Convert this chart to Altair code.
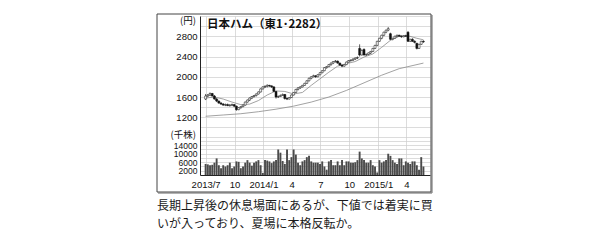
import altair as alt
import pandas as pd

# ---------------- data (weekly) ----------------
start_date = "2013-07-01"

opens = [1560, 1620, 1640, 1670, 1620, 1560, 1520, 1480, 1460, 1440,
         1450, 1430, 1440, 1450, 1420, 1350, 1390, 1410, 1440, 1500,
         1540, 1580, 1610, 1630, 1660, 1700, 1760, 1800, 1810, 1830,
         1820, 1800, 1710, 1600, 1610, 1630, 1650, 1570, 1560, 1590,
         1640, 1690, 1750, 1780, 1800, 1830, 1870, 1920, 1970, 2000,
         2020, 2000, 2040, 2080, 2120, 2180, 2200, 2240, 2270, 2300,
         2310, 2270, 2230, 2210, 2240, 2290, 2320, 2330, 2350, 2370,
         2560, 2430, 2540, 2430, 2440, 2470, 2500, 2560, 2620, 2700,
         2760, 2820, 2880, 2920, 2850, 2740, 2760, 2800, 2820, 2800,
         2790, 2810, 2880, 2700, 2740, 2700, 2660, 2560, 2640, 2700]
highs = [1660, 1660, 1690, 1680, 1640, 1580, 1530, 1500, 1480, 1470,
         1470, 1460, 1470, 1460, 1430, 1400, 1420, 1450, 1510, 1550,
         1590, 1620, 1640, 1670, 1710, 1770, 1810, 1830, 1850, 1840,
         1830, 1810, 1720, 1630, 1650, 1670, 1660, 1590, 1600, 1650,
         1700, 1760, 1790, 1810, 1840, 1880, 1930, 1980, 2010, 2040,
         2030, 2050, 2090, 2130, 2190, 2210, 2250, 2280, 2310, 2330,
         2320, 2280, 2240, 2250, 2300, 2330, 2340, 2360, 2380, 2400,
         2640, 2540, 2560, 2460, 2480, 2510, 2570, 2630, 2710, 2770,
         2830, 2890, 2930, 2980, 2870, 2770, 2810, 2830, 2830, 2820,
         2820, 2830, 2900, 2750, 2760, 2720, 2670, 2650, 2710, 2720]
lows = [1540, 1600, 1620, 1610, 1550, 1500, 1470, 1450, 1430, 1420,
        1420, 1410, 1420, 1400, 1330, 1340, 1370, 1400, 1430, 1490,
        1520, 1560, 1590, 1610, 1650, 1690, 1750, 1780, 1790, 1800,
        1780, 1700, 1570, 1580, 1600, 1620, 1550, 1540, 1550, 1580,
        1630, 1680, 1730, 1760, 1790, 1820, 1860, 1910, 1950, 1990,
        1980, 1990, 2030, 2070, 2110, 2160, 2190, 2220, 2250, 2280,
        2260, 2220, 2190, 2200, 2230, 2280, 2300, 2310, 2330, 2350,
        2400, 2420, 2420, 2410, 2420, 2450, 2490, 2550, 2610, 2690,
        2740, 2800, 2860, 2900, 2720, 2720, 2750, 2780, 2790, 2770,
        2780, 2790, 2690, 2690, 2690, 2660, 2540, 2550, 2630, 2670]
closes = [1620, 1640, 1670, 1620, 1560, 1520, 1480, 1460, 1440, 1450,
          1430, 1440, 1450, 1420, 1350, 1390, 1410, 1440, 1500, 1540,
          1580, 1610, 1630, 1660, 1700, 1760, 1800, 1810, 1830, 1820,
          1800, 1710, 1600, 1610, 1630, 1650, 1570, 1560, 1590, 1640,
          1690, 1750, 1780, 1800, 1830, 1870, 1920, 1970, 2000, 2020,
          2000, 2040, 2080, 2120, 2180, 2200, 2240, 2270, 2300, 2310,
          2270, 2230, 2210, 2240, 2290, 2320, 2330, 2350, 2370, 2380,
          2430, 2520, 2430, 2440, 2470, 2500, 2560, 2620, 2700, 2760,
          2820, 2880, 2920, 2950, 2740, 2760, 2800, 2820, 2800, 2790,
          2810, 2800, 2700, 2740, 2700, 2680, 2560, 2640, 2700, 2690]
volumes = [5200, 5000, 4600, 4800, 5800, 7800, 4600, 3200, 4600, 4000,
           4600, 5800, 3200, 4000, 6400, 6200, 3200, 4000, 5800, 7000,
           5800, 4400, 5800, 6400, 7000, 4600, 1000, 7000, 6800, 6400,
           5600, 6400, 7000, 12000, 10500, 6600, 5200, 12000, 7000, 8400,
           12000, 9600, 5800, 4600, 6400, 7000, 8400, 9000, 6400, 5800,
           5800, 5800, 5200, 6400, 4000, 2500, 6400, 7000, 4600, 4600,
           6400, 4600, 7000, 4600, 6400, 6400, 5800, 5800, 6000, 7000,
           11000, 7800, 7000, 5800, 5800, 7000, 4600, 4000, 1200, 7000,
           5800, 6400, 7000, 10000, 9000, 7000, 5800, 5200, 7800, 7800,
           4600, 6400, 5800, 5200, 6400, 6400, 4600, 2500, 8400, 4000]

ma13_weeks = [0, 4, 8, 12, 16, 20, 24, 28, 32, 36, 40, 44, 48, 52, 56,
              60, 64, 68, 72, 76, 80, 84, 88, 92, 96, 99]
ma13_values = [1580, 1600, 1560, 1500, 1450, 1460, 1530, 1640, 1720, 1710,
               1660, 1690, 1830, 1960, 2090, 2210, 2260, 2300, 2390, 2450,
               2580, 2720, 2800, 2810, 2760, 2730]
ma52_weeks = [0, 8, 16, 24, 32, 40, 48, 56, 64, 72, 80, 88, 99]
ma52_values = [1220, 1245, 1270, 1310, 1360, 1420, 1500, 1600, 1730, 1880,
               2030, 2160, 2270]

tick_dates = ["2013-07-01", "2013-10-01", "2014-01-01", "2014-04-01",
              "2014-07-01", "2014-10-01", "2015-01-01", "2015-04-01"]
tick_labels = ["2013/7", "10", "2014/1", "4", "7", "10", "2015/1", "4"]
price_grid = [1000, 1200, 1400, 1600, 1800, 2000, 2200, 2400, 2600, 2800, 3000, 3200]
price_labeled = [1200, 1600, 2000, 2400, 2800]
vol_grid = [2000, 4000, 6000, 8000, 10000, 12000, 14000, 16000, 18000]
vol_labeled = [2000, 6000, 10000, 14000]

stock_title = "日本ハム（東1･2282）"
price_unit = "(円)"
vol_unit = "(千株)"
caption_lines = ["長期上昇後の休息場面にあるが、下値では着実に買",
                 "いが入っており、夏場に本格反転か。"]

# ---------------- tables ----------------
dates = pd.date_range(start_date, periods=len(closes), freq="7D")
df = pd.DataFrame({
    "date": dates.strftime("%Y-%m-%d"),
    "open": opens, "high": highs, "low": lows, "close": closes,
    "volume": volumes,
})
ma13 = pd.DataFrame({
    "date": [dates[w].strftime("%Y-%m-%d") for w in ma13_weeks],
    "ma": ma13_values})
ma52 = pd.DataFrame({
    "date": [dates[w].strftime("%Y-%m-%d") for w in ma52_weeks],
    "ma": ma52_values})

# ---------------- encodings ----------------
NUM_FONT = "Liberation Sans"
JP_FONT = "Noto Sans CJK JP"
GRID = "#cdcdcd"

expr = "''"
for d, l in reversed(list(zip(tick_dates, tick_labels))):
    ms = int(pd.Timestamp(d, tz="UTC").timestamp() * 1000)
    expr = f"time(datum.value) == {ms} ? '{l}' : ({expr})"


def dt(s):
    t = pd.Timestamp(s)
    return alt.DateTime(year=t.year, month=t.month, date=t.day, utc=True)


x_enc = alt.X(
    "date:T",
    scale=alt.Scale(type="utc", domain=[dt("2013-06-29"), dt("2015-05-30")]),
    axis=alt.Axis(values=[dt(d) for d in tick_dates], labelExpr=expr,
                  title=None, grid=True, gridColor=GRID, gridWidth=0.7,
                  ticks=False, domainColor="#222", domainWidth=1,
                  labelFlush=False, labelOverlap=False, labelFont=NUM_FONT,
                  labelFontSize=9.5, labelColor="#111", labelPadding=4),
)

price_scale = alt.Scale(domain=[60, 3200], nice=False, zero=False)
price_axis = alt.Axis(values=price_grid, format="d",
                      labelExpr=f"indexof({price_labeled}, datum.value) >= 0 ? datum.label : ''",
                      title=None, grid=True, gridColor=GRID, gridWidth=0.7,
                      ticks=False, domainColor="#222", domainWidth=1,
                      labelOverlap=False, labelFlush=False,
                      labelFont=NUM_FONT, labelFontSize=9.5, labelColor="#111",
                      labelPadding=3, orient="left")

vol_scale = alt.Scale(domain=[0, 74800], nice=False, zero=True)
vol_axis = alt.Axis(values=vol_grid, format="d",
                    labelExpr=f"indexof({vol_labeled}, datum.value) >= 0 ? datum.label : ''",
                    title=None, grid=True, gridColor=GRID, gridWidth=0.7,
                    ticks=False, domain=False, labelOverlap=False,
                    labelFlush=False, labelFont=NUM_FONT,
                    labelFontSize=8.5, labelColor="#111", labelPadding=3,
                    orient="left")

base = alt.Chart(df)

wicks = base.mark_rule(color="#111", strokeWidth=0.7).encode(
    x=x_enc,
    y=alt.Y("low:Q", scale=price_scale, axis=price_axis),
    y2="high:Q",
)
bodies = base.mark_bar(size=2, stroke="#111", strokeWidth=0.5).encode(
    x=x_enc,
    y=alt.Y("open:Q", scale=price_scale, axis=price_axis),
    y2="close:Q",
    fill=alt.condition("datum.open > datum.close", alt.value("#111"), alt.value("white")),
)
line13 = alt.Chart(ma13).mark_line(color="#8a8a8a", strokeWidth=0.8).encode(
    x=x_enc, y=alt.Y("ma:Q", scale=price_scale, axis=price_axis))
line52 = alt.Chart(ma52).mark_line(color="#8a8a8a", strokeWidth=0.8).encode(
    x=x_enc, y=alt.Y("ma:Q", scale=price_scale, axis=price_axis))

price_layer = alt.layer(wicks, line13, line52, bodies)

vol_bars = base.mark_bar(size=1.9, color="#4a4a4a").encode(
    x=x_enc,
    y=alt.Y("volume:Q", scale=vol_scale, axis=vol_axis),
)
vol_layer = alt.layer(vol_bars)

one = pd.DataFrame({"k": [0]})


def label(text, x, y, size, align="left", weight="normal", font=JP_FONT, color="#111"):
    return alt.Chart(pd.DataFrame({"t": [text]})).mark_text(
        align=align, baseline="middle", font=font, fontSize=size,
        fontWeight=weight, color=color).encode(
        text="t:N", x=alt.value(x), y=alt.value(y))


frame = alt.Chart(one).mark_rect(fillOpacity=0, stroke="#444", strokeWidth=1).encode(
    x=alt.value(-43), x2=alt.value(231), y=alt.value(-2), y2=alt.value(176))
shadow_r = alt.Chart(one).mark_rule(color="#666", strokeWidth=1).encode(
    x=alt.value(232), y=alt.value(-1), y2=alt.value(177))
shadow_b = alt.Chart(one).mark_rule(color="#666", strokeWidth=1).encode(
    x=alt.value(-42), x2=alt.value(232), y=alt.value(177))

deco = alt.layer(
    frame, shadow_r, shadow_b,
    label(stock_title, 7, 8.5, 11.5, weight="bold"),
    label(price_unit, -4, 5, 9.5, align="right"),
    label(vol_unit, -4, 119, 9.5, align="right"),
    label(caption_lines[0], -43, 190, 12, color="#1a1a1a"),
    label(caption_lines[1], -43, 208, 12, color="#1a1a1a"),
)

chart = alt.layer(price_layer, vol_layer, deco).resolve_scale(
    y="independent").resolve_axis(y="independent").properties(
    width=230, height=159,
    padding={"left": 156, "top": 11, "right": 5, "bottom": 5},
    background="white",
).configure_view(strokeWidth=0)

chart.save("out.html", embed_options={"renderer": "svg", "actions": False})
